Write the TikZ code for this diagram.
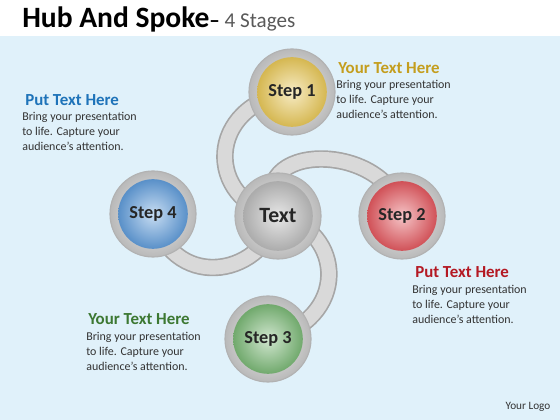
\documentclass[tikz,border=0pt]{standalone}
\usepackage{fontspec}
\setmainfont{Carlito}
\usetikzlibrary{positioning}
\pgfdeclarelayer{sky}
\pgfdeclarelayer{tubes}
\pgfsetlayers{sky,tubes,main}
\definecolor{skyblue}{RGB}{224,241,250}
\definecolor{goldhead}{RGB}{196,158,30}
\definecolor{bluehead}{RGB}{30,115,185}
\definecolor{redhead}{RGB}{180,25,35}
\definecolor{greenhead}{RGB}{60,120,50}
\definecolor{yellowball}{RGB}{228,190,60}
\definecolor{redball}{RGB}{222,60,68}
\definecolor{greenball}{RGB}{100,172,95}
\definecolor{blueball}{RGB}{70,140,212}
\definecolor{grayball}{RGB}{175,175,175}

\begin{document}
\begin{tikzpicture}
    [x=0.025cm,y=0.025cm,
    ring/.style={circle,inner sep=0pt,minimum size=2.15cm,draw=gray!60,thick,
      inner color=gray!10,outer color=gray!55,
      font=\bfseries\fontsize{13}{15}\selectfont,text=black!85},
    ball/.style={ring,path picture={\shade[inner color=#1!30!white,outer color=#1!90!black]
      (path picture bounding box.center) circle (0.87cm);}},
    tube/.style={draw=gray!70,double=gray!30,double distance=10pt,line width=1.2pt},
    head/.style={inner sep=0pt,anchor=north west,font=\bfseries\fontsize{12}{14}\selectfont},
    body/.style={inner sep=0pt,anchor=north west,align=left,
      font=\fontsize{8.5}{10.6}\selectfont,text=black!80}]

    \useasboundingbox (0,0) rectangle (560,420);

    \begin{pgfonlayer}{sky}
      \fill[white] (0,0) rectangle (560,420);
      \shade[top color=skyblue,middle color=white,bottom color=skyblue] (0,0) rectangle (560,383);
    \end{pgfonlayer}

    \node[anchor=base west,inner sep=0pt,font=\bfseries\fontsize{21}{24}\selectfont]
      (title) at (22,392) {Hub And Spoke{\fontsize{15}{17}\selectfont– \mdseries\color{black!65}4 Stages}};

    \node[ball=grayball]   (hub)    at (278,204) {\fontsize{15.5}{17}\selectfont Text};
    \node[ball=yellowball] (step 1) at (292,328) {Step 1};
    \node[ball=redball]    (step 2) at (402,204) {Step 2};
    \node[ball=greenball]  (step 3) at (268,81)  {Step 3};
    \node[ball=blueball]   (step 4) at (153,206) {Step 4};

    \begin{pgfonlayer}{tubes}
      \draw[tube] (step 1.center) .. controls (205,315) and (205,220) .. (hub.center);
      \draw[tube] (step 2.center) .. controls (390,280) and (240,280) .. (hub.center);
      \draw[tube] (step 3.center) .. controls (350,100) and (345,190) .. (hub.center);
      \draw[tube] (step 4.center) .. controls (170,130) and (260,140) .. (hub.center);
    \end{pgfonlayer}

    % text blocks
    \node[head,text=goldhead]  (head 1) at (338,358) {Your Text Here};
    \node[body] (body 1) at (336,340) {Bring your presentation\\to life. Capture your\\audience’s attention.};

    \node[head,text=redhead]   (head 2) at (415,154) {Put Text Here};
    \node[body] (body 2) at (412,135) {Bring your presentation\\to life. Capture your\\audience’s attention.};

    \node[head,text=greenhead] (head 3) at (88,107)  {Your Text Here};
    \node[body] (body 3) at (86,88)   {Bring your presentation\\to life. Capture your\\audience’s attention.};

    \node[head,text=bluehead]  (head 4) at (25,326)  {Put Text Here};
    \node[body] (body 4) at (22,308)  {Bring your presentation\\to life. Capture your\\audience’s attention.};

    \node[inner sep=0pt,font=\fontsize{8}{9}\selectfont,text=black!80] (logo) at (528,13) {Your Logo};

  \end{tikzpicture}
\end{document}
